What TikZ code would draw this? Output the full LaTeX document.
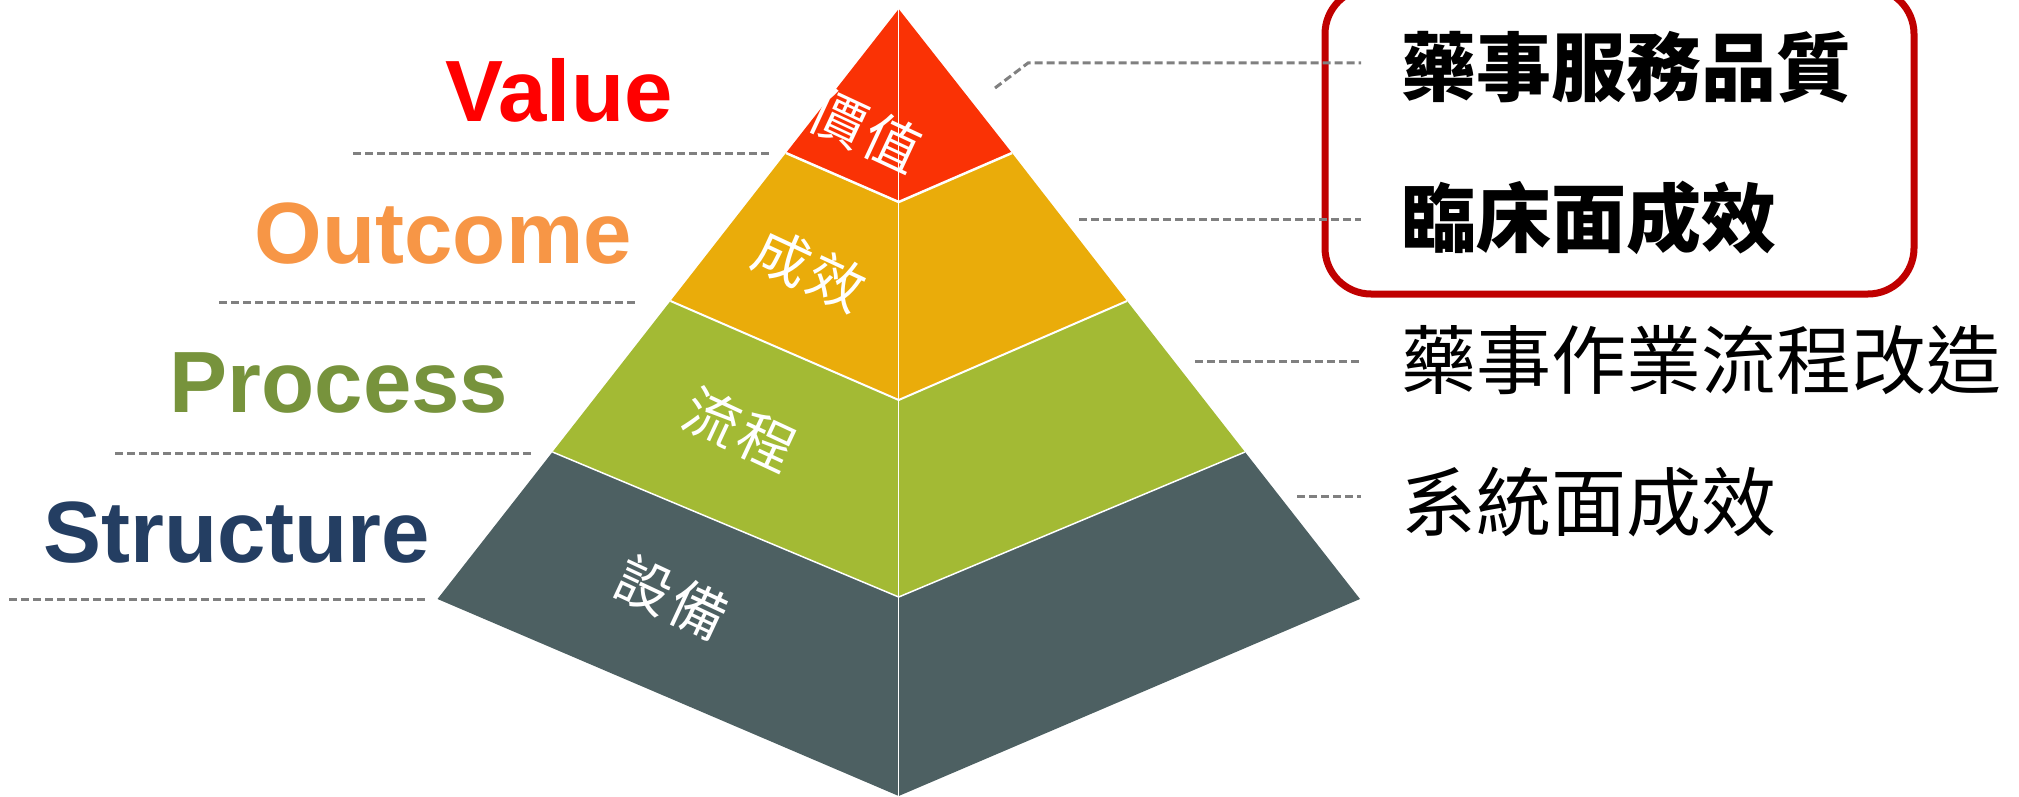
\documentclass[tikz,border=0pt]{standalone}
\usepackage{fontspec}
\setmainfont{Liberation Sans}
\newfontfamily\cjk{Noto Sans CJK TC}
\definecolor{cval}{RGB}{250,50,5}
\definecolor{cout}{RGB}{234,172,10}
\definecolor{cpro}{RGB}{163,186,52}
\definecolor{cstr}{RGB}{77,96,98}
\definecolor{tval}{RGB}{255,0,0}
\definecolor{tout}{RGB}{247,150,70}
\definecolor{tpro}{RGB}{119,147,60}
\definecolor{tstr}{RGB}{36,62,98}
\definecolor{boxred}{RGB}{192,0,0}
\definecolor{dashgray}{RGB}{128,128,128}
\tikzset{
  engl/.style={anchor=base west, inner sep=0pt, font=\fontsize{87}{100}\selectfont\bfseries},
  pyrtext/.style={text=white, inner sep=0pt, rotate=-25, font=\cjk\fontsize{56}{64}\selectfont},
  righttext/.style={anchor=west, inner sep=0pt, text=black, font=\cjk\fontsize{75}{90}\selectfont},
  guide/.style={dashgray, line width=3pt, dash pattern=on 8pt off 4pt},
  sepline/.style={white, line width=2.5pt, line join=miter},
}
\begin{document}
\begin{tikzpicture}[x=1pt,y=-1pt]
\useasboundingbox (0,0) rectangle (2019,797);
% pyramid points
\coordinate (A) at (898.7,9);
\coordinate (L1) at (786,153);   \coordinate (C1) at (898.7,202); \coordinate (R1) at (1012,153);
\coordinate (L2) at (670.5,301); \coordinate (C2) at (898.7,400); \coordinate (R2) at (1127,301);
\coordinate (L3) at (552.5,452); \coordinate (C3) at (898.7,597); \coordinate (R3) at (1245,452);
\coordinate (L4) at (437.5,599); \coordinate (C4) at (898.7,796); \coordinate (R4) at (1360,599);
% fills
\fill[cval] (A) -- (R1) -- (C1) -- (L1) -- cycle;
\fill[cout] (L1) -- (C1) -- (R1) -- (R2) -- (C2) -- (L2) -- cycle;
\fill[cpro] (L2) -- (C2) -- (R2) -- (R3) -- (C3) -- (L3) -- cycle;
\fill[cstr] (L3) -- (C3) -- (R3) -- (R4) -- (C4) -- (L4) -- cycle;
% separators
\draw[sepline] (L1) -- (C1) -- (R1);
\draw[sepline, line width=2pt] (L2) -- (C2) -- (R2);
\draw[sepline, line width=1.5pt] (L3) -- (C3) -- (R3);
\draw[white, line width=1.5pt] (A) -- (C4);
% pyramid labels
\node[pyrtext] (p1) at (866,131) {價\kern3pt值};
\node[pyrtext] (p2) at (810,270) {成\kern3pt效};
\node[pyrtext] (p3) at (740,430) {流\kern3pt程};
\node[pyrtext] (p4) at (672,598) {設\kern3pt備};
% english labels
\node[engl, text=tval] (vl) at (445,122) {Value};
\node[engl, text=tout] (ol) at (254.5,263) {Outcome};
\node[engl, text=tpro] (pl) at (169.5,412) {Process};
\node[engl, text=tstr] (sl) at (43,562) {Structure};
% left guides
\coordinate (g1a) at (353,153.4); \coordinate (g1b) at (772,153.4);
\coordinate (g2a) at (219,302.4); \coordinate (g2b) at (638,302.4);
\coordinate (g3a) at (115,453);   \coordinate (g3b) at (533.5,453);
\coordinate (g4a) at (9,599);     \coordinate (g4b) at (428.6,599);
\draw[guide] (g1a) -- (g1b);
\draw[guide] (g2a) -- (g2b);
\draw[guide] (g3a) -- (g3b);
\draw[guide] (g4a) -- (g4b);
% red box
\draw[boxred, line width=7pt, rounded corners=46pt] (1325,-12) rectangle (1914,294);
% right guides
\coordinate (h1a) at (995,88); \coordinate (h1m) at (1028,63); \coordinate (h1b) at (1361,63);
\coordinate (h2a) at (1079,219); \coordinate (h2b) at (1361,219);
\coordinate (h3a) at (1195,361); \coordinate (h3b) at (1361,361);
\coordinate (h4a) at (1297,496); \coordinate (h4b) at (1361,496);
\draw[guide] (h1a) -- (h1m) -- (h1b);
\draw[guide] (h2a) -- (h2b);
\draw[guide] (h3a) -- (h3b);
\draw[guide] (h4a) -- (h4b);
% right texts
\node[righttext, font=\cjk\bfseries\fontsize{75}{90}\selectfont] (r1) at (1401,67) {藥事服務品質};
\node[righttext, font=\cjk\bfseries\fontsize{75}{90}\selectfont] (r2) at (1401,218) {臨床面成效};
\node[righttext] (r3) at (1401,360) {藥事作業流程改造};
\node[righttext] (r4) at (1401,502) {系統面成效};
\end{tikzpicture}
\end{document}
